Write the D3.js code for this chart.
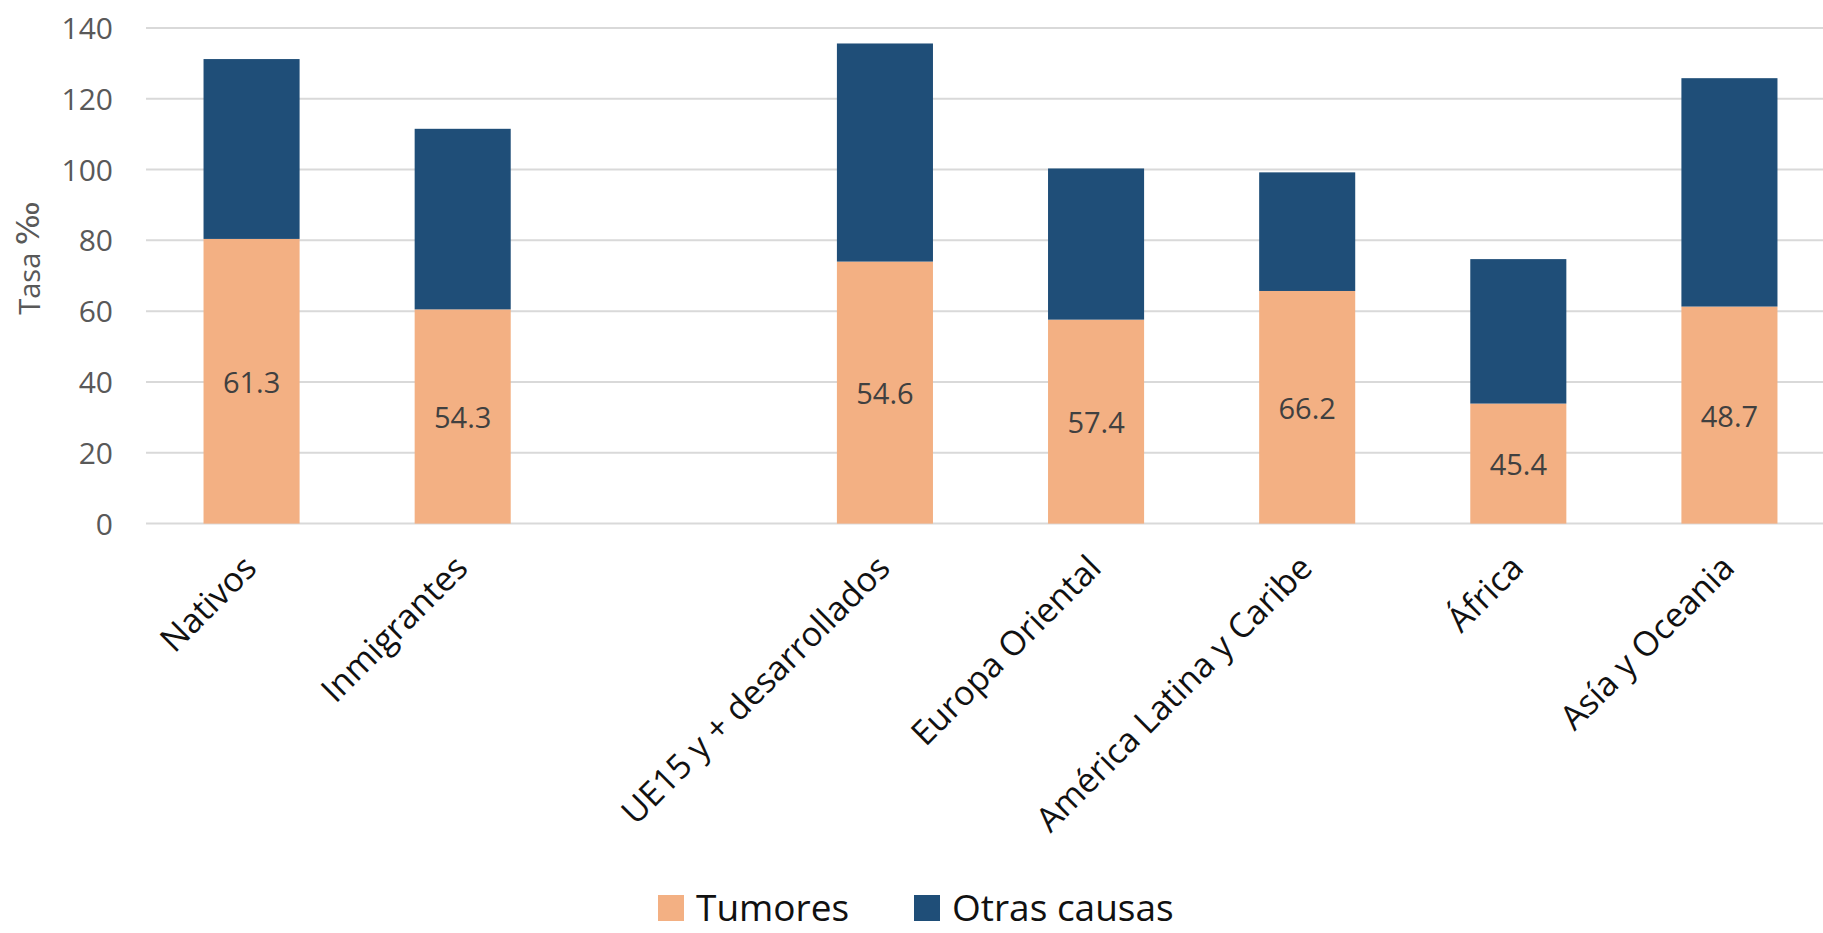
<!DOCTYPE html>
<html lang="es">
<head>
<meta charset="utf-8">
<script src="https://cdn.jsdelivr.net/npm/d3@7"></script>
<style>
  html, body { margin: 0; padding: 0; background: #ffffff; }
  svg { display: block; }
  text { font-family: "Open Sans", "Noto Sans", sans-serif; }
</style>
</head>
<body>
<svg id="chart" width="1823" height="933"></svg>
<script>
// Categories along the x axis ("" leaves an empty slot between the two groups)
const categories = ["Nativos", "Inmigrantes", "", "UE15 y + desarrollados", "Europa Oriental",
                    "América Latina y Caribe", "África", "Asía y Oceania"];
// Rates per thousand, stacked: tumours at the bottom, other causes on top
const tumores     = [80.4, 60.5, null, 74.0, 57.6, 65.7, 33.9, 61.3];
const otrasCausas = [50.8, 51.0, null, 61.6, 42.7, 33.5, 40.8, 64.5];
const seriesNames = ["Tumores", "Otras causas"];
const seriesColors = ["#F3B083", "#1F4E78"];
const yTicks = [0, 20, 40, 60, 80, 100, 120, 140];

const svg = d3.select("#chart");

const x = d3.scaleBand()
  .domain(categories.map((c, i) => i))
  .range([146, 1835])
  .paddingInner(0.545)
  .paddingOuter(0.2725);

const y = d3.scaleLinear().domain([0, 140]).range([523.6, 27.9]);

// Horizontal gridlines
svg.append("g")
  .selectAll("line")
  .data(yTicks)
  .join("line")
  .attr("x1", 146).attr("x2", 1835)
  .attr("y1", d => y(d)).attr("y2", d => y(d))
  .attr("stroke", "#d9d9d9")
  .attr("stroke-width", 2);

// Y axis tick labels
const yAxis = d3.axisLeft(y).tickValues(yTicks).tickSize(0).tickPadding(0);
const gy = svg.append("g").attr("transform", "translate(113,0)").call(yAxis);
gy.select(".domain").remove();
gy.selectAll("text")
  .attr("font-size", 30)
  .attr("fill", "#595959")
  .attr("font-family", "'Open Sans', sans-serif")
  .attr("dy", "0.35em");

// Y axis title; the per-mille sign gets its own span so it keeps a readable width
const yTitle = svg.append("text")
  .attr("transform", "translate(28,258) rotate(-90)")
  .attr("text-anchor", "middle")
  .attr("dominant-baseline", "central")
  .attr("font-size", 29)
  .attr("fill", "#595959");
yTitle.append("tspan").text("Tasa ");
const permil = yTitle.append("tspan").attr("font-family", "'DejaVu Sans', sans-serif").text("‰");
{
  const node = yTitle.node();
  const full = node.getComputedTextLength();
  const head = node.getSubStringLength(0, 5);
  const signW = full - head;
  if (signW > 0) permil.attr("font-size", 29 * 44 / signW);
}

// Stacked bars
const rows = categories.map((c, i) => ({ i, tumores: tumores[i], otras: otrasCausas[i] }))
  .filter(d => d.tumores != null);
const stack = d3.stack().keys(["tumores", "otras"]);
const layers = stack(rows);

svg.append("g")
  .selectAll("g")
  .data(layers)
  .join("g")
  .attr("fill", (d, k) => seriesColors[k])
  .selectAll("rect")
  .data(d => d)
  .join("rect")
  .attr("x", d => x(d.data.i))
  .attr("width", x.bandwidth())
  .attr("y", d => y(d[1]))
  .attr("height", d => y(d[0]) - y(d[1]));

// Share of tumours in the total, written in the middle of the tumour segment
const fmt = d3.format(".1f");
svg.append("g")
  .selectAll("text")
  .data(rows)
  .join("text")
  .attr("x", d => x(d.i) + x.bandwidth() / 2)
  .attr("y", d => y(d.tumores / 2))
  .attr("text-anchor", "middle")
  .attr("dominant-baseline", "central")
  .attr("font-size", 29)
  .attr("fill", "#404040")
  .text(d => fmt(d.tumores / (d.tumores + d.otras) * 100));

// Category labels, rotated
const xAxis = d3.axisBottom(x).tickSize(0).tickFormat(i => categories[i]);
const gx = svg.append("g").attr("transform", "translate(0,570)").call(xAxis);
gx.select(".domain").remove();
gx.selectAll("text")
  .attr("font-size", 34)
  .attr("fill", "#111111")
  .attr("font-family", "'Open Sans', sans-serif")
  .attr("text-anchor", "end")
  .attr("dy", 0)
  .attr("y", 0)
  .attr("transform", "translate(7,0) rotate(-45)");

// Legend
const legend = svg.append("g");
const legendX = [658, 914];
seriesNames.forEach((name, k) => {
  const g = legend.append("g").attr("transform", `translate(${legendX[k]},0)`);
  g.append("rect")
    .attr("x", 0).attr("y", 895)
    .attr("width", 26).attr("height", 26)
    .attr("fill", seriesColors[k]);
  g.append("text")
    .attr("x", 38).attr("y", 921)
    .attr("font-size", 37)
    .attr("fill", "#111111")
    .text(name);
});
</script>
</body>
</html>
